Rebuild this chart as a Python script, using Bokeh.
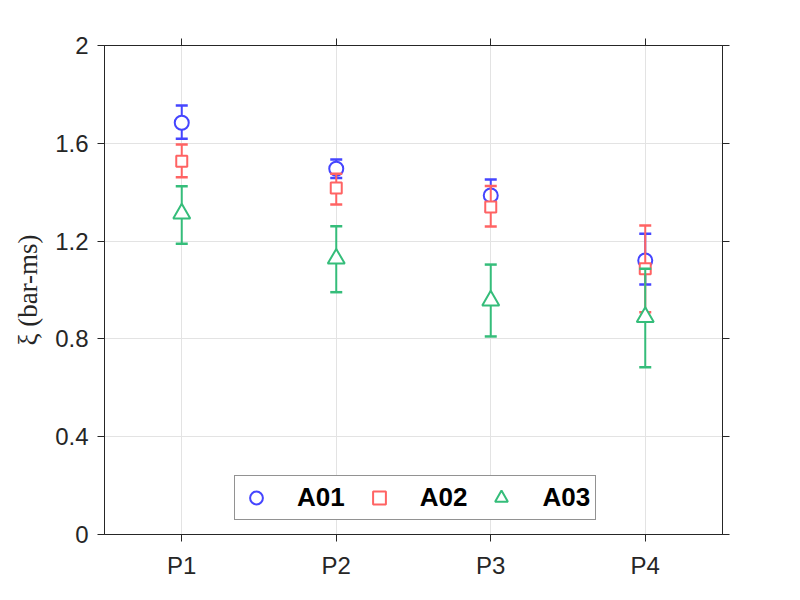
from bokeh.plotting import figure
from bokeh.models import (Range1d, LinearAxis, FixedTicker, Legend, LegendItem,
                          ColumnDataSource)
from bokeh.embed import file_html
from bokeh.resources import INLINE

categories = ["P1", "P2", "P3", "P4"]
xpos = [1, 2, 3, 4]

a01_mean = [1.684, 1.496, 1.387, 1.121]
a01_low = [1.619, 1.458, 1.322, 1.022]
a01_high = [1.755, 1.534, 1.452, 1.230]

a02_mean = [1.527, 1.417, 1.339, 1.087]
a02_low = [1.461, 1.350, 1.260, 0.909]
a02_high = [1.595, 1.475, 1.425, 1.264]

a03_mean = [1.313, 1.128, 0.957, 0.889]
a03_low = [1.189, 0.991, 0.810, 0.684]
a03_high = [1.424, 1.261, 1.104, 1.087]

series = [
    ("A01", a01_mean, a01_low, a01_high, "#4545FF", "circle", 14),
    ("A02", a02_mean, a02_low, a02_high, "#FF6363", "square", 11),
    ("A03", a03_mean, a03_low, a03_high, "#35BD7A", "triangle", 17),
]

AX = "#262626"
p = figure(width=800, height=600, output_backend="svg", toolbar_location=None,
           x_range=Range1d(0.5, 4.5), y_range=Range1d(0, 2),
           min_border_left=104, min_border_right=78, min_border_top=45,
           min_border_bottom=66, background_fill_color="white",
           border_fill_color="white")
p.outline_line_color = AX
p.outline_line_width = 1

p.xaxis.ticker = FixedTicker(ticks=xpos)
p.xaxis.major_label_overrides = {x: c for x, c in zip(xpos, categories)}
p.yaxis.ticker = FixedTicker(ticks=[0, 0.4, 0.8, 1.2, 1.6, 2.0])
p.yaxis.major_label_overrides = {0: "0", 0.4: "0.4", 0.8: "0.8", 1.2: "1.2", 1.6: "1.6", 2.0: "2"}

for ax in [p.xaxis[0], p.yaxis[0]]:
    ax.axis_line_color = AX
    ax.major_tick_line_color = AX
    ax.major_tick_in = 0
    ax.major_tick_out = 7
    ax.minor_tick_line_color = None
    ax.major_label_text_font = "Liberation Sans"
    ax.major_label_text_font_size = "24px"
    ax.major_label_text_color = AX
p.xaxis.major_label_standoff = 10
p.yaxis.major_label_standoff = 9
p.yaxis.axis_label = "ξ (bar-ms)"
p.yaxis.axis_label_text_font = "Liberation Serif"
p.yaxis.axis_label_text_font_style = "normal"
p.yaxis.axis_label_text_font_size = "27px"
p.yaxis.axis_label_text_color = AX
p.yaxis.axis_label_standoff = 9

right = LinearAxis(ticker=FixedTicker(ticks=[0, 0.4, 0.8, 1.2, 1.6, 2.0]),
                   major_label_text_color=None, major_tick_in=0, major_tick_out=7,
                   minor_tick_line_color=None, axis_line_color=AX,
                   major_tick_line_color=AX)
p.add_layout(right, "right")
top = LinearAxis(ticker=FixedTicker(ticks=xpos),
                 major_label_text_color=None, major_tick_in=0, major_tick_out=7,
                 minor_tick_line_color=None, axis_line_color=AX,
                 major_tick_line_color=AX)
p.add_layout(top, "above")

p.grid.grid_line_color = "#E3E3E3"
p.grid.grid_line_width = 1

items = []
for name, mean, low, high, color, marker, size in series:
    src = ColumnDataSource(dict(x=xpos, m=mean, lo=low, hi=high))
    p.segment(x0="x", y0="lo", x1="x", y1="hi", source=src, line_color=color, line_width=2)
    p.scatter(x="x", y="lo", source=src, marker="dash", size=12, line_color=color, line_width=2.5)
    p.scatter(x="x", y="hi", source=src, marker="dash", size=12, line_color=color, line_width=2.5)
    r = p.scatter(x="x", y="m", source=src, marker=marker, size=size,
                  line_color=color, line_width=2, fill_color="white")
    items.append(LegendItem(label=name, renderers=[r]))

legend = Legend(items=items, orientation="horizontal", location=(130, 14),
                padding=5, margin=0, spacing=18, glyph_width=32, glyph_height=33,
                label_standoff=25, label_text_font="Liberation Sans",
                label_text_font_style="bold", label_text_font_size="26px",
                label_text_color="black", label_height=26,
                border_line_color=AX, border_line_width=1,
                background_fill_color="white", background_fill_alpha=1)
p.add_layout(legend, "center")

open("out.html", "w").write(file_html(p, INLINE))
